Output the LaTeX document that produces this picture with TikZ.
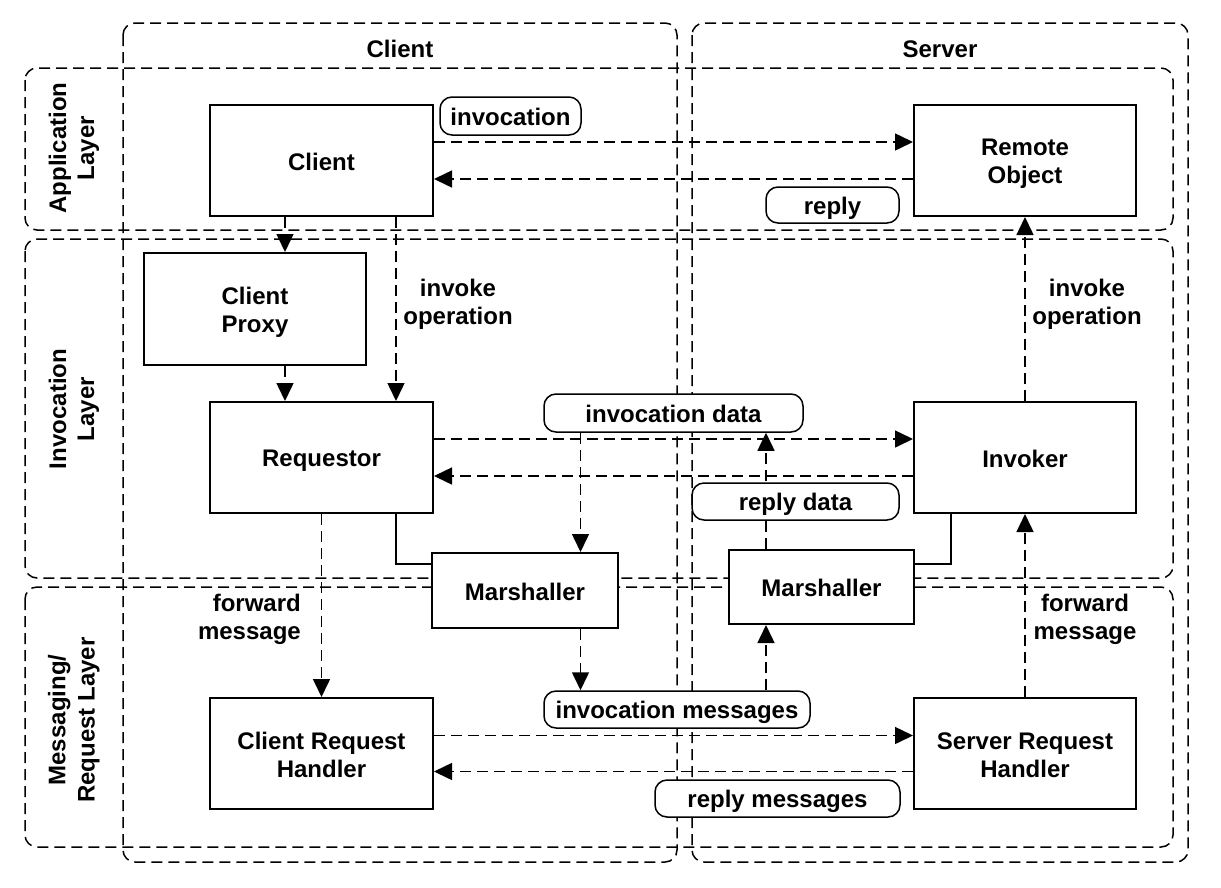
\documentclass[tikz,border=0pt]{standalone}
\usepackage{fontspec}
\setmainfont{Liberation Sans}
\usetikzlibrary{arrows.meta,backgrounds}
\newcommand\ts{\rule[-4pt]{0pt}{27pt}}
\begin{document}
\begin{tikzpicture}[x=1pt,y=-1pt,
  txt/.style={font=\bfseries\fontsize{24}{28}\selectfont, inner sep=0pt},
  box/.style={txt, draw, line width=2pt, fill=white, align=center, minimum width=223, minimum height=111},
  pill/.style={txt, draw, line width=1.5pt, fill=white, rounded corners=12pt, minimum height=37},
  region/.style={draw, line width=1.5pt, dash pattern=on 11pt off 6pt, rounded corners=12pt},
  arr/.style={line width=1.5pt, dash pattern=on 11pt off 6pt, -{Triangle[length=18pt,width=17pt]}},
  link/.style={line width=1.5pt},
  lbl/.style={txt, align=center}
]
\useasboundingbox (0,0) rectangle (1221,887);

% nodes
\node[box] (client) at (321.5,160.5) {\ts Client};
\node[box, minimum width=222, minimum height=112] (cproxy) at (255,309) {\ts Client\\\ts Proxy};
\node[box] (req) at (321.5,457.5) {\ts Requestor};
\node[box] (crh) at (321.5,753.5) {\ts Client Request\\\ts Handler};
\node[box, minimum width=222] (ro) at (1025,160.5) {\ts Remote\\\ts Object};
\node[box, minimum width=222] (inv) at (1025,457.5) {\ts Invoker};
\node[box, minimum width=222] (srh) at (1025,753.5) {\ts Server Request\\\ts Handler};
\node[box, minimum width=186, minimum height=75] (mL) at (525,590.5) {\ts Marshaller};
\node[box, minimum width=185, minimum height=74] (mR) at (821.5,587) {\ts Marshaller};

\node[pill, minimum width=141, minimum height=38] (pinv) at (510.5,116) {\ts invocation};
\node[pill, minimum width=133, minimum height=36] (preply) at (832.5,205) {\ts reply};
\node[pill, minimum width=259, minimum height=38] (idata) at (673.5,413) {\ts invocation data};
\node[pill, minimum width=207] (rdata) at (795.5,501.5) {\ts reply data};
\node[pill, minimum width=266] (imsg) at (677,709.5) {\ts invocation messages};
\node[pill, minimum width=245] (rmsg) at (777.5,798.5) {\ts reply messages};

\node[txt] (hclient) at (400,48) {\ts Client};
\node[txt] (hserver) at (940,48) {\ts Server};
\node[lbl, rotate=90] (lapp) at (71,148) {\ts Application\\\ts Layer};
\node[lbl, rotate=90] (linv) at (71,409) {\ts Invocation\\\ts Layer};
\node[lbl, rotate=90] (lmsg) at (71,720) {\ts Messaging/\\\ts Request Layer};

\node[lbl] (io1) at (458,301) {\ts invoke\\\ts operation};
\node[lbl] (io2) at (1087,301) {\ts invoke\\\ts operation};
\node[txt, align=right, anchor=east] (fm1) at (301,617) {\ts forward\\\ts message};
\node[lbl] (fm2) at (1085,617) {\ts forward\\\ts message};

\coordinate (xa) at (285,0);
\coordinate (xb) at (396,0);
\coordinate (xc) at (951,0);
\coordinate (xd) at (580.5,0);
\coordinate (xe) at (766,0);
\coordinate (ym) at (0,564);

\begin{scope}[on background layer]
  \draw[region] (123,23) rectangle (677,862);
  \draw[region] (692,23) rectangle (1188,862);
  \draw[region] (25,68) rectangle (1173,230);
  \draw[region] (25,239) rectangle (1173,578);
  \draw[region] (25,587) rectangle (1173,847);
  \draw[arr] (xe |- mR.north) -- (xe |- idata.south);
\end{scope}

% connectors
\draw[arr] ([yshift=18.5pt]client.east) -- ([yshift=18.5pt]client.east -| ro.west);
\draw[arr] ([yshift=-18.5pt]ro.west) -- ([yshift=-18.5pt]ro.west -| client.east);
\draw[arr] ([yshift=18.5pt]req.east) -- ([yshift=18.5pt]req.east -| inv.west);
\draw[arr] ([yshift=-18.5pt]inv.west) -- ([yshift=-18.5pt]inv.west -| req.east);
\draw[arr] ([yshift=18pt]crh.east) -- ([yshift=18pt]crh.east -| srh.west);
\draw[arr] ([yshift=-18pt]srh.west) -- ([yshift=-18pt]srh.west -| crh.east);

\draw[arr] (xa |- client.south) -- (xa |- cproxy.north);
\draw[arr] (xa |- cproxy.south) -- (xa |- req.north);
\draw[arr] (xb |- client.south) -- (xb |- req.north);
\draw[arr] (req.south) -- (crh.north);
\draw[link] (xb |- req.south) |- (mL.west |- ym);
\draw[link] (xc |- inv.south) |- (mR.east |- ym);
\draw[arr] (xd |- idata.south) -- (xd |- mL.north);
\draw[arr] (xd |- mL.south) -- (xd |- imsg.north);
\draw[arr] (xe |- imsg.north) -- (xe |- mR.south);
\draw[arr] (srh.north) -- (inv.south);
\draw[arr] (inv.north) -- (ro.south);
\end{tikzpicture}
\end{document}
